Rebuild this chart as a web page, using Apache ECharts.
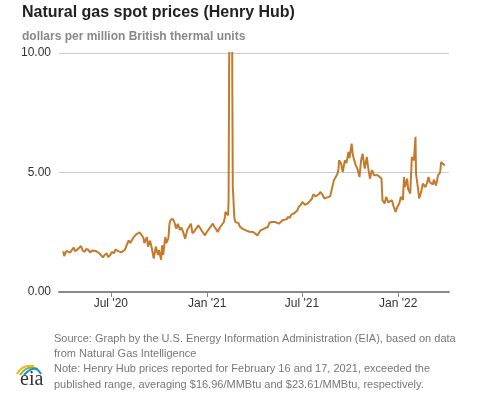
<!DOCTYPE html>
<html>
<head>
<meta charset="utf-8">
<script src="https://cdn.jsdelivr.net/npm/echarts@6/dist/echarts.min.js"></script>
<style>
html,body{margin:0;padding:0;background:#fff;}
#chart{width:477px;height:393px;}
</style>
</head>
<body>
<div id="chart"></div>
<script>
// Henry Hub spot price, dollars per MMBtu
var dates = [
'2020-04-01','2020-04-03','2020-04-07','2020-04-10','2020-04-14','2020-04-17','2020-04-21','2020-04-24','2020-04-28',
'2020-05-01','2020-05-05','2020-05-08','2020-05-12','2020-05-15','2020-05-19','2020-05-22','2020-05-27','2020-05-29',
'2020-06-02','2020-06-05','2020-06-09','2020-06-12','2020-06-16','2020-06-19','2020-06-23','2020-06-26','2020-06-30',
'2020-07-03','2020-07-07','2020-07-10','2020-07-14','2020-07-17','2020-07-21','2020-07-24','2020-07-28','2020-07-31',
'2020-08-04','2020-08-07','2020-08-11','2020-08-14','2020-08-18','2020-08-21','2020-08-25','2020-08-28',
'2020-09-01','2020-09-03','2020-09-08','2020-09-10','2020-09-14','2020-09-17','2020-09-21','2020-09-23','2020-09-25','2020-09-29',
'2020-10-01','2020-10-05','2020-10-07','2020-10-09','2020-10-13','2020-10-15','2020-10-19','2020-10-21','2020-10-23','2020-10-27','2020-10-30',
'2020-11-03','2020-11-06','2020-11-10','2020-11-13','2020-11-17','2020-11-20','2020-11-24','2020-11-27',
'2020-12-01','2020-12-04','2020-12-08','2020-12-11','2020-12-15','2020-12-18','2020-12-22','2020-12-28','2020-12-31',
'2021-01-05','2021-01-08','2021-01-12','2021-01-15','2021-01-19','2021-01-21','2021-01-26','2021-01-29',
'2021-02-02','2021-02-04','2021-02-05','2021-02-08','2021-02-10','2021-02-11','2021-02-12','2021-02-16','2021-02-17','2021-02-18','2021-02-19','2021-02-22','2021-02-24','2021-02-26',
'2021-03-02','2021-03-04','2021-03-09','2021-03-12','2021-03-16','2021-03-19','2021-03-23','2021-03-26','2021-03-30',
'2021-04-02','2021-04-07','2021-04-09','2021-04-13','2021-04-16','2021-04-20','2021-04-23','2021-04-27','2021-04-30',
'2021-05-04','2021-05-07','2021-05-11','2021-05-14','2021-05-18','2021-05-21','2021-05-25','2021-05-28',
'2021-06-02','2021-06-04','2021-06-08','2021-06-11','2021-06-15','2021-06-18','2021-06-22','2021-06-25','2021-06-29',
'2021-07-02','2021-07-07','2021-07-09','2021-07-13','2021-07-16','2021-07-20','2021-07-23','2021-07-27','2021-07-30',
'2021-08-03','2021-08-05','2021-08-10','2021-08-13','2021-08-17','2021-08-20','2021-08-24','2021-08-26','2021-08-31',
'2021-09-02','2021-09-07','2021-09-09','2021-09-10','2021-09-14','2021-09-17','2021-09-21','2021-09-24','2021-09-28','2021-09-30',
'2021-10-04','2021-10-06','2021-10-08','2021-10-12','2021-10-15','2021-10-19','2021-10-22','2021-10-25','2021-10-27','2021-10-29',
'2021-11-02','2021-11-04','2021-11-08','2021-11-10','2021-11-12','2021-11-16','2021-11-19','2021-11-23','2021-11-26','2021-11-30',
'2021-12-02','2021-12-06','2021-12-09','2021-12-13','2021-12-16','2021-12-20','2021-12-23','2021-12-27','2021-12-30',
'2022-01-03','2022-01-06','2022-01-10','2022-01-12','2022-01-14','2022-01-18','2022-01-20','2022-01-24','2022-01-27','2022-01-31',
'2022-02-03','2022-02-04','2022-02-08','2022-02-10','2022-02-14','2022-02-17','2022-02-22','2022-02-24','2022-02-28',
'2022-03-02','2022-03-04','2022-03-08','2022-03-10','2022-03-14','2022-03-16','2022-03-18','2022-03-22','2022-03-24','2022-03-28','2022-03-31'
];
var prices = [
1.70,1.50,1.72,1.77,1.65,1.74,1.86,1.70,1.78,
1.72,1.92,1.75,1.68,1.80,1.77,1.66,1.74,1.80,
1.72,1.76,1.62,1.70,1.45,1.55,1.62,1.46,1.55,
1.68,1.62,1.78,1.72,1.70,1.66,1.70,1.77,1.82,
2.16,2.05,2.20,2.30,2.40,2.33,2.50,2.42,
2.28,2.05,2.30,1.90,2.15,1.85,1.40,1.33,1.90,1.55,
1.75,1.35,1.95,1.55,2.30,2.05,2.25,2.85,3.00,3.07,2.95,
2.65,2.85,2.60,2.70,2.45,2.23,2.60,2.70,
2.86,2.45,2.55,2.65,2.79,2.70,2.55,2.37,2.50,
2.65,2.70,2.86,2.72,2.60,2.51,2.72,2.80,
2.93,3.14,3.35,3.28,3.21,3.90,9.50,16.96,23.61,9.00,4.40,3.10,2.93,2.86,
2.88,2.75,2.65,2.62,2.58,2.55,2.52,2.50,2.51,
2.45,2.37,2.45,2.58,2.62,2.65,2.70,2.72,2.90,
2.93,2.90,2.93,2.88,2.86,2.90,3.00,2.95,
3.05,3.14,3.10,3.25,3.28,3.20,3.40,3.56,3.65,
3.77,3.65,3.70,3.72,3.77,3.90,4.09,4.00,3.95,
4.10,4.19,4.05,3.91,3.95,3.90,4.00,4.19,4.67,
4.74,4.95,5.16,5.51,5.37,5.02,5.51,5.40,5.86,5.60,
6.21,5.79,5.58,5.30,5.16,4.81,5.50,5.79,5.86,5.16,
5.65,5.30,4.74,4.95,5.10,4.88,4.95,4.88,4.81,4.75,
3.84,3.70,3.98,3.75,3.70,3.84,3.60,3.35,3.55,
3.70,3.98,3.85,4.81,4.39,4.74,4.30,4.12,5.65,5.51,
6.49,4.95,4.30,3.91,4.20,4.53,4.39,4.50,4.81,
4.60,4.67,4.50,4.70,4.46,4.65,4.88,5.00,5.44,5.35,5.30
];
var tickDates = ['2020-07-01','2021-01-01','2021-07-01','2022-01-01'];
var tickLabels = ["Jul '20","Jan '21","Jul '21","Jan '22"];
var yTicks = [0, 5, 10];
var xRange = ['2020-03-24', '2022-04-08'];

function ts(d) { return Date.UTC(+d.slice(0, 4), +d.slice(5, 7) - 1, +d.slice(8, 10)); }
var seriesData = dates.map(function (d, i) { return [ts(d), prices[i]]; });
var tickTimes = tickDates.map(ts);
function labelFor(v) {
  var best = 0, bd = Infinity;
  tickTimes.forEach(function (t, i) { var dd = Math.abs(t - v); if (dd < bd) { bd = dd; best = i; } });
  return tickLabels[best];
}

var chart = echarts.init(document.getElementById('chart'), null, {renderer: 'canvas'});
chart.setOption({
  animation: false,
  backgroundColor: '#ffffff',
  textStyle: {fontFamily: 'Liberation Sans, Arial, sans-serif'},
  title: [{
    text: 'Natural gas spot prices (Henry Hub)',
    left: 17, top: 0,
    textStyle: {fontSize: 16, fontWeight: 'bold', color: '#222222', fontFamily: 'Liberation Sans, Arial, sans-serif'}
  }, {
    text: 'dollars per million British thermal units',
    left: 17, top: 26,
    textStyle: {fontSize: 12, fontWeight: 'bold', color: '#888888', fontFamily: 'Liberation Sans, Arial, sans-serif'}
  }],
  grid: {left: 59, right: 28, top: 53, bottom: 101, containLabel: false},
  xAxis: {
    type: 'value',
    min: ts(xRange[0]),
    max: ts(xRange[1]),
    splitLine: {show: false},
    axisLine: {show: true, onZero: false, lineStyle: {color: '#888888', width: 2}},
    axisTick: {show: true, customValues: tickTimes, length: 5, lineStyle: {color: '#888888', width: 1}},
    axisLabel: {
      customValues: tickTimes,
      formatter: function (v) { return labelFor(v); },
      color: '#333333', fontSize: 12, margin: 6,
      fontFamily: 'Liberation Sans, Arial, sans-serif'
    }
  },
  yAxis: {
    type: 'value',
    min: yTicks[0], max: yTicks[2], interval: 5,
    axisLine: {show: false},
    axisTick: {show: false},
    splitLine: {show: true, lineStyle: {color: '#cccccc', width: 1}},
    axisLabel: {
      formatter: function (v) { return v.toFixed(2); },
      color: '#333333', fontSize: 12, margin: 8,
      fontFamily: 'Liberation Sans, Arial, sans-serif'
    }
  },
  series: [{
    type: 'line',
    data: seriesData,
    showSymbol: false,
    symbol: 'none',
    clip: true,
    lineStyle: {color: '#c47a2c', width: 2},
    itemStyle: {color: '#c47a2c'}
  }],
  graphic: [{
    type: 'text', left: 54, top: 331,
    style: {
      text: 'Source: Graph by the U.S. Energy Information Administration (EIA), based on data\nfrom Natural Gas Intelligence\nNote: Henry Hub prices reported for February 16 and 17, 2021, exceeded the\npublished range, averaging $16.96/MMBtu and $23.61/MMBtu, respectively.',
      fill: '#777777', fontSize: 11, lineHeight: 15.3,
      fontFamily: 'Liberation Sans, Arial, sans-serif'
    }
  }, {
    type: 'bezierCurve', shape: {x1: 17, y1: 374, cpx1: 22, cpy1: 364, x2: 34, y2: 366},
    style: {stroke: '#f2b61c', lineWidth: 2, fill: null}
  }, {
    type: 'bezierCurve', shape: {x1: 20, y1: 375, cpx1: 27, cpy1: 364, x2: 38, y2: 369},
    style: {stroke: '#7dbb42', lineWidth: 2, fill: null}
  }, {
    type: 'bezierCurve', shape: {x1: 24, y1: 375, cpx1: 35, cpy1: 363, x2: 41, y2: 374},
    style: {stroke: '#1a8fd0', lineWidth: 2, fill: null}
  }, {
    type: 'text', x: 20, y: 370,
    style: {text: 'eia', fill: '#333333', fontSize: 20, fontFamily: 'Liberation Serif, DejaVu Serif, serif'}
  }]
});
</script>
</body>
</html>
